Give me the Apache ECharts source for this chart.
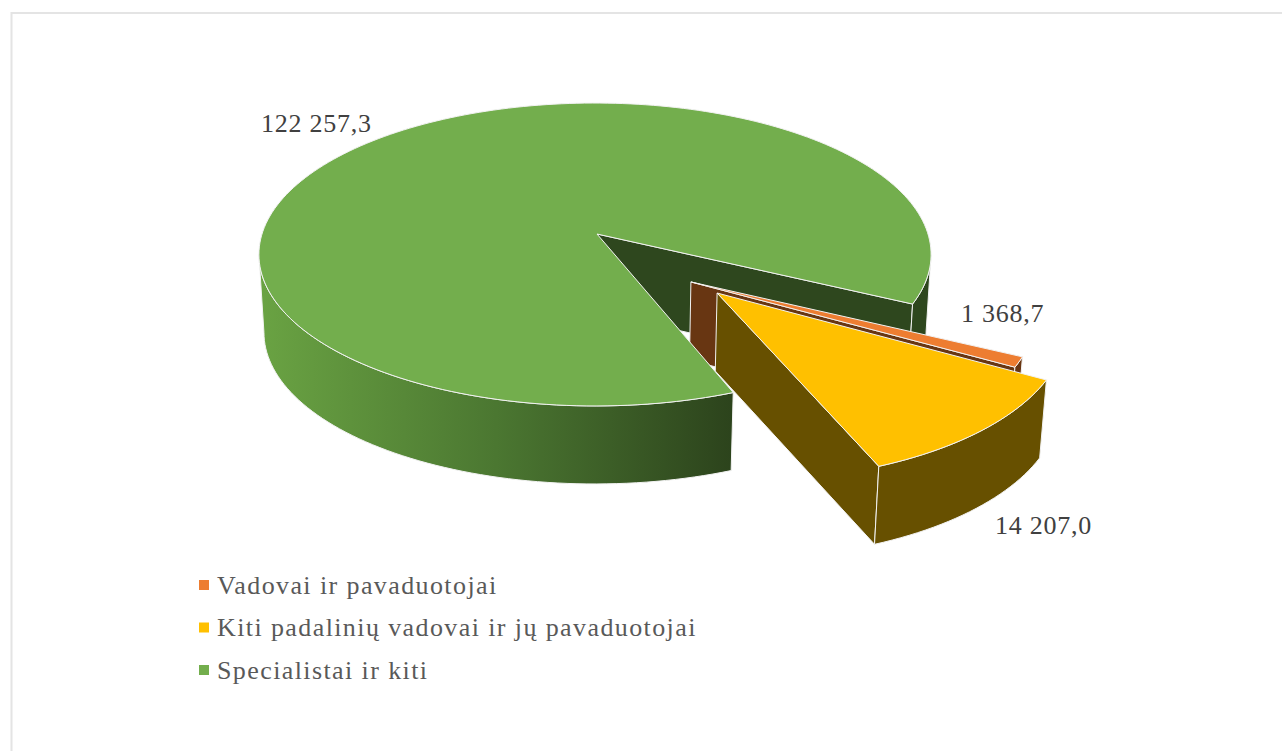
<!DOCTYPE html>
<html>
<head>
<meta charset="utf-8">
<style>
  html, body { margin: 0; padding: 0; background: #fff; }
  #main { width: 1282px; height: 751px; }
  /* the original text is spaced out a little, the svg renderer lets css do that */
  #main text[fill="#595959"] { letter-spacing: 1.4px; }
  #main text[fill="#404040"] { letter-spacing: 0.75px; }
</style>
<script src="https://cdn.jsdelivr.net/npm/echarts@6/dist/echarts.min.js"></script>
</head>
<body>
<div id="main"></div>
<script>
const categories = ['Vadovai ir pavaduotojai', 'Kiti padalinių vadovai ir jų pavaduotojai', 'Specialistai ir kiti']
const values = [1368.7, 14207.0, 122257.3]
const topColors = ['#ED7D31', '#FFC000', '#73AE4D']
const wallColors = ['#683612', '#675000', '#2E471E']

// pie plane -> screen, a small perspective so the near edge looks bigger
const cx = 595, cy = 234, R = 333, flat = 0.4465, k = 0.1353, depth = 78, shrink = 0.985
const total = values.reduce((a, b) => a + b, 0)
const startAngle = 27.17
const font = '26px "Liberation Serif"'
// rim angles where the top ellipse is widest, that is where the wall silhouette ends
const rightEdge = 7.8, leftEdge = 172.2

// per slice: how far it is pulled out, its radius in units of R, paint order, apex nudge
const slicePlace = [
  {du: 0.276, dv: 0.309, r: 0.98, z: 2, ax: 0},
  {du: 0.348, dv: 0.3766, r: 0.98, z: 3, ax: 0},
  {du: 0, dv: 0, r: 1, z: 4, ax: 0.006}
]
const labelPlace = [[961, 313], [995, 525], [261, 123]]

function project (u, v, low) {
  const s = 1 / (1 - k * v)
  let x = cx + R * u * s
  let y = cy + R * flat * v * s
  if (low) {
    x = cx + (x - cx) * shrink
    y += depth
  }
  return [x, y]
}

// the view stretches angles slightly around the front right
function warp (a) {
  return a + 1.35 * Math.sin(2 * (a - 47.5) * Math.PI / 180)
}

function arc (p, a0, a1, low) {
  const pts = []
  const n = Math.max(2, Math.ceil(Math.abs(a1 - a0) / 1.5))
  for (let i = 0; i <= n; i++) {
    const a = (a0 + (a1 - a0) * i / n) * Math.PI / 180
    pts.push(project(p.du + p.r * Math.cos(a), p.dv + p.r * Math.sin(a), low))
  }
  return pts
}

function wall (pts, lowPts, fill, z2) {
  return {
    type: 'polygon',
    z2,
    shape: {points: pts.concat(lowPts.slice().reverse())},
    style: {fill, stroke: '#f2f2f2', lineWidth: 1}
  }
}

function formatValue (v) {
  const parts = v.toFixed(1).split('.')
  return parts[0].replace(/\B(?=(\d{3})+$)/g, ' ') + ',' + parts[1]
}

function sliceAngles (idx) {
  let a0 = startAngle
  for (let i = 0; i < idx; i++) a0 += values[i] / total * 360
  return [warp(a0), warp(a0 + values[idx] / total * 360)]
}

function renderSlice (params, api) {
  const idx = params.seriesIndex
  const p = slicePlace[idx]
  const [a0, a1] = sliceAngles(idx)
  const value = api.value(0)
  const apex = project(p.du + p.ax, p.dv, false)
  const apexLow = project(p.du + p.ax, p.dv, true)
  const children = []

  if (idx === 2) {
    // the big slice: cut face and right rim sit behind the pulled slices
    const cut = a1 - 360
    children.push(wall([apex, arc(p, cut, cut, false)[0]], [apexLow, arc(p, cut, cut, true)[0]], wallColors[idx], 1))
    children.push(wall(arc(p, rightEdge, cut, false), arc(p, rightEdge, cut, true), wallColors[idx], 1))
    children.push(wall(arc(p, a0, leftEdge, false), arc(p, a0, leftEdge, true), new echarts.graphic.LinearGradient(0, 0, 1, 0, [
      {offset: 0, color: '#6AA343'},
      {offset: 0.5, color: '#4B7731'},
      {offset: 1, color: '#2C431C'}
    ]), p.z))
  } else {
    // cut face on the lower side, then the rim
    children.push(wall([apex, arc(p, a1, a1, false)[0]], [apexLow, arc(p, a1, a1, true)[0]], wallColors[idx], p.z))
    children.push(wall(arc(p, a0, a1, false), arc(p, a0, a1, true), wallColors[idx], p.z))
  }

  children.push({
    type: 'polygon',
    z2: p.z,
    shape: {points: [apex].concat(arc(p, a0, a1, false))},
    style: {fill: topColors[idx], stroke: '#f2f2f2', lineWidth: 1}
  })
  children.push({
    type: 'text',
    z2: 6,
    style: {
      x: labelPlace[idx][0],
      y: labelPlace[idx][1],
      text: formatValue(value),
      font,
      fill: '#404040',
      verticalAlign: 'middle'
    }
  })
  return {type: 'group', children}
}

const chart = echarts.init(document.getElementById('main'), null, {renderer: 'svg'})
chart.setOption({
  animation: false,
  backgroundColor: '#fff',
  legend: {
    orient: 'vertical',
    left: 194,
    top: 567,
    icon: 'rect',
    itemWidth: 10,
    itemHeight: 10,
    itemGap: 16.5,
    selectedMode: false,
    data: categories,
    textStyle: {fontFamily: 'Liberation Serif', fontSize: 26, color: '#595959', padding: [0, 0, 0, 3]}
  },
  graphic: [{
    type: 'polyline',
    silent: true,
    shape: {points: [[11.5, 751], [11.5, 13], [1282, 13]]},
    style: {fill: null, stroke: '#e4e4e4', lineWidth: 2}
  }],
  series: categories.map((name, i) => ({
    type: 'custom',
    name,
    coordinateSystem: 'none',
    silent: true,
    itemStyle: {color: topColors[i]},
    renderItem: renderSlice,
    data: [[values[i]]]
  }))
})
</script>
</body>
</html>
